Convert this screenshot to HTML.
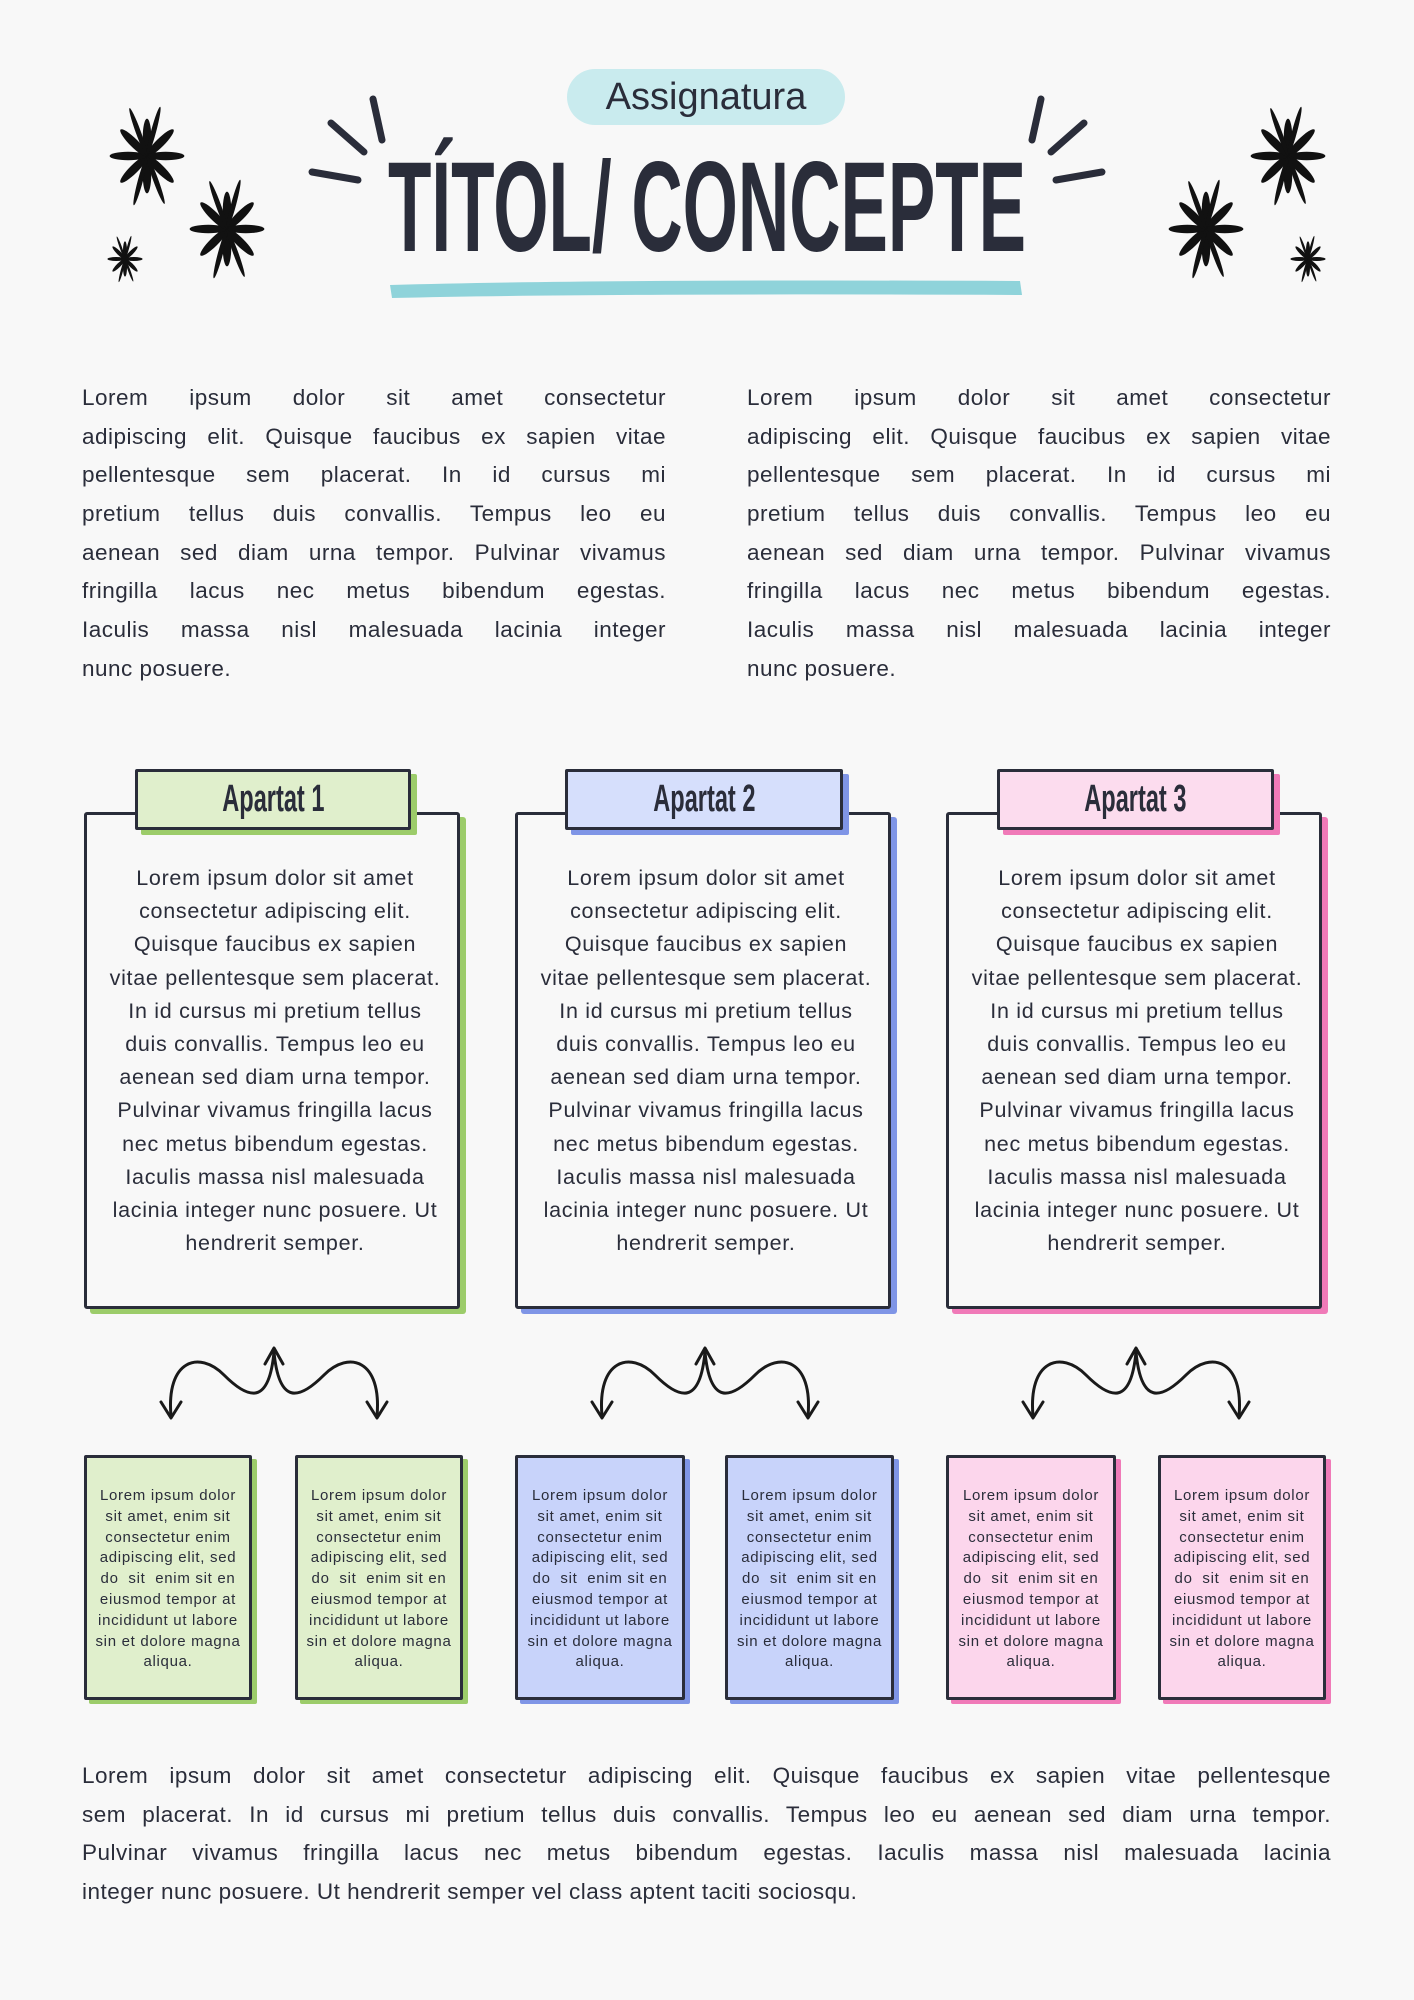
<!DOCTYPE html>
<html><head><meta charset="utf-8">
<style>
*{margin:0;padding:0;box-sizing:border-box}
body{width:1414px;height:2000px;background:#f8f8f8;position:relative;overflow:hidden;font-family:"Liberation Sans",sans-serif;color:#2a2d3a}
.abs{position:absolute}
.pill{left:567px;top:69px;width:278px;height:56px;border-radius:28px;background:#c9ebee;text-align:center;font-size:38px;line-height:56px;color:#2a2d3a}
.title{left:107px;top:144px;width:1200px;text-align:center;font-size:128px;font-weight:bold;line-height:128px;white-space:nowrap;transform:scaleX(0.555);transform-origin:center;color:#2a2d3a}
.para{font-size:22.5px;letter-spacing:0.5px;line-height:38.7px;color:#2a2d3a}
.para div{text-align:justify;text-align-last:justify;white-space:nowrap;height:38.7px}
.para div.l{text-align-last:left}
.box{border:3px solid #2a2d3a;background:#f8f8f8;border-radius:3px}
.tab{border:3px solid #2a2d3a;text-align:center;font-size:38px;font-weight:bold;line-height:54px;border-radius:2px;white-space:nowrap}
.tab span{display:inline-block;transform:scaleX(0.62)}
.bt{font-size:21.5px;letter-spacing:0.7px;line-height:33.2px;text-align:center;color:#2a2d3a}
.sm{border:3px solid #2a2d3a;border-radius:2px;font-size:15px;letter-spacing:0.7px;line-height:20.8px;text-align:center;padding:28px 4px 0}
</style></head><body>
<div class="abs pill">Assignatura</div>
<div class="abs title">TÍTOL/ CONCEPTE</div>
<svg class="abs" style="left:0;top:0" width="1414" height="320">
<defs>
<g id="st"><g fill="#111">
<ellipse cx="0" cy="-22" rx="5" ry="22"/><ellipse cx="0" cy="22" rx="5" ry="22"/>
<ellipse cx="0" cy="-22" rx="5" ry="22" transform="rotate(45)"/><ellipse cx="0" cy="22" rx="5" ry="22" transform="rotate(45)"/>
<ellipse cx="0" cy="-22" rx="5" ry="22" transform="rotate(90)"/><ellipse cx="0" cy="22" rx="5" ry="22" transform="rotate(90)"/>
<ellipse cx="0" cy="-22" rx="5" ry="22" transform="rotate(135)"/><ellipse cx="0" cy="22" rx="5" ry="22" transform="rotate(135)"/>
<ellipse cx="0" cy="-30" rx="3" ry="30" transform="rotate(15)"/><ellipse cx="0" cy="30" rx="3" ry="30" transform="rotate(15)"/>
<ellipse cx="0" cy="-30" rx="3" ry="30" transform="rotate(-20)"/><ellipse cx="0" cy="30" rx="3" ry="30" transform="rotate(-20)"/>
</g></g>
</defs>
<use href="#st" transform="translate(147,156) scale(0.85)"/>
<use href="#st" transform="translate(227,229) scale(0.85)"/>
<use href="#st" transform="translate(125,259) scale(0.4)"/>
<use href="#st" transform="translate(1288,156) scale(0.85)"/>
<use href="#st" transform="translate(1206,229) scale(0.85)"/>
<use href="#st" transform="translate(1308,259) scale(0.4)"/>
<g stroke="#2a2d3a" stroke-width="7" stroke-linecap="round">
<line x1="331" y1="123" x2="364" y2="152"/><line x1="373" y1="99" x2="382" y2="140"/><line x1="312" y1="172" x2="358" y2="180"/>
<line x1="1084" y1="123" x2="1051" y2="152"/><line x1="1041" y1="99" x2="1032" y2="140"/><line x1="1102" y1="172" x2="1056" y2="180"/>
</g>
<path d="M390 285 Q600 279 1020 281 L1022 295 Q600 293 392 298 Z" fill="#8fd3da"/>
</svg>
<div class="abs para" style="left:82px;top:379px;width:584px">
<div>Lorem ipsum dolor sit amet consectetur</div>
<div>adipiscing elit. Quisque faucibus ex sapien vitae</div>
<div>pellentesque sem placerat. In id cursus mi</div>
<div>pretium tellus duis convallis. Tempus leo eu</div>
<div>aenean sed diam urna tempor. Pulvinar vivamus</div>
<div>fringilla lacus nec metus bibendum egestas.</div>
<div>Iaculis massa nisl malesuada lacinia integer</div>
<div class="l">nunc posuere.</div>
</div>
<div class="abs para" style="left:747px;top:379px;width:584px">
<div>Lorem ipsum dolor sit amet consectetur</div>
<div>adipiscing elit. Quisque faucibus ex sapien vitae</div>
<div>pellentesque sem placerat. In id cursus mi</div>
<div>pretium tellus duis convallis. Tempus leo eu</div>
<div>aenean sed diam urna tempor. Pulvinar vivamus</div>
<div>fringilla lacus nec metus bibendum egestas.</div>
<div>Iaculis massa nisl malesuada lacinia integer</div>
<div class="l">nunc posuere.</div>
</div>

<div class="abs box" style="left:84px;top:812px;width:376px;height:497px;box-shadow:6px 5px 0 #9ccc6a"></div>
<div class="abs tab" style="left:135px;top:769px;width:276px;height:61px;background:#e0efcc;box-shadow:6px 5px 0 #9ccc6a"><span>Apartat 1</span></div>
<div class="abs box" style="left:515px;top:812px;width:376px;height:497px;box-shadow:6px 5px 0 #7f95e6"></div>
<div class="abs tab" style="left:565px;top:769px;width:278px;height:61px;background:#d6dffc;box-shadow:6px 5px 0 #7f95e6"><span>Apartat 2</span></div>
<div class="abs box" style="left:946px;top:812px;width:376px;height:497px;box-shadow:6px 5px 0 #f07ab8"></div>
<div class="abs tab" style="left:997px;top:769px;width:277px;height:61px;background:#fcdcee;box-shadow:6px 5px 0 #f07ab8"><span>Apartat 3</span></div>
<div class="abs bt" style="left:90px;top:862px;width:370px">Lorem ipsum dolor sit amet<br>consectetur adipiscing elit.<br>Quisque faucibus ex sapien<br>vitae pellentesque sem placerat.<br>In id cursus mi pretium tellus<br>duis convallis. Tempus leo eu<br>aenean sed diam urna tempor.<br>Pulvinar vivamus fringilla lacus<br>nec metus bibendum egestas.<br>Iaculis massa nisl malesuada<br>lacinia integer nunc posuere. Ut<br>hendrerit semper.</div>
<div class="abs bt" style="left:521px;top:862px;width:370px">Lorem ipsum dolor sit amet<br>consectetur adipiscing elit.<br>Quisque faucibus ex sapien<br>vitae pellentesque sem placerat.<br>In id cursus mi pretium tellus<br>duis convallis. Tempus leo eu<br>aenean sed diam urna tempor.<br>Pulvinar vivamus fringilla lacus<br>nec metus bibendum egestas.<br>Iaculis massa nisl malesuada<br>lacinia integer nunc posuere. Ut<br>hendrerit semper.</div>
<div class="abs bt" style="left:952px;top:862px;width:370px">Lorem ipsum dolor sit amet<br>consectetur adipiscing elit.<br>Quisque faucibus ex sapien<br>vitae pellentesque sem placerat.<br>In id cursus mi pretium tellus<br>duis convallis. Tempus leo eu<br>aenean sed diam urna tempor.<br>Pulvinar vivamus fringilla lacus<br>nec metus bibendum egestas.<br>Iaculis massa nisl malesuada<br>lacinia integer nunc posuere. Ut<br>hendrerit semper.</div>

<svg class="abs" style="left:0;top:1340px" width="1414" height="100">
<defs><g id="ar" fill="none" stroke="#1a1a1a" stroke-width="3" stroke-linecap="round" stroke-linejoin="round">
<path d="M-103,76 C-108,20 -75,10 -50,35 C-25,60 -5,65 0,12 C5,65 25,60 50,35 C75,10 108,20 103,76"/>
<path d="M-113,62 L-103,78 L-93,62"/><path d="M93,62 L103,78 L113,62"/><path d="M-9,24 L0,8 L9,24"/>
</g></defs>
<use href="#ar" x="274" y="0"/>
<use href="#ar" x="705" y="0"/>
<use href="#ar" x="1136" y="0"/>
</svg>

<div class="abs sm" style="left:84px;top:1455px;width:168px;height:245px;background:#e0efcc;box-shadow:5px 4px 0 #9ccc6a">Lorem ipsum dolor<br>sit amet, enim sit<br>consectetur enim<br>adipiscing elit, sed<br>do &nbsp;sit &nbsp;enim sit en<br>eiusmod tempor at<br>incididunt ut labore<br>sin et dolore magna<br>aliqua.</div>
<div class="abs sm" style="left:295px;top:1455px;width:168px;height:245px;background:#e0efcc;box-shadow:5px 4px 0 #9ccc6a">Lorem ipsum dolor<br>sit amet, enim sit<br>consectetur enim<br>adipiscing elit, sed<br>do &nbsp;sit &nbsp;enim sit en<br>eiusmod tempor at<br>incididunt ut labore<br>sin et dolore magna<br>aliqua.</div>
<div class="abs sm" style="left:515px;top:1455px;width:170px;height:245px;background:#c8d3fa;box-shadow:5px 4px 0 #7f95e6">Lorem ipsum dolor<br>sit amet, enim sit<br>consectetur enim<br>adipiscing elit, sed<br>do &nbsp;sit &nbsp;enim sit en<br>eiusmod tempor at<br>incididunt ut labore<br>sin et dolore magna<br>aliqua.</div>
<div class="abs sm" style="left:725px;top:1455px;width:169px;height:245px;background:#c8d3fa;box-shadow:5px 4px 0 #7f95e6">Lorem ipsum dolor<br>sit amet, enim sit<br>consectetur enim<br>adipiscing elit, sed<br>do &nbsp;sit &nbsp;enim sit en<br>eiusmod tempor at<br>incididunt ut labore<br>sin et dolore magna<br>aliqua.</div>
<div class="abs sm" style="left:946px;top:1455px;width:170px;height:245px;background:#fcd6ec;box-shadow:5px 4px 0 #f07ab8">Lorem ipsum dolor<br>sit amet, enim sit<br>consectetur enim<br>adipiscing elit, sed<br>do &nbsp;sit &nbsp;enim sit en<br>eiusmod tempor at<br>incididunt ut labore<br>sin et dolore magna<br>aliqua.</div>
<div class="abs sm" style="left:1158px;top:1455px;width:168px;height:245px;background:#fcd6ec;box-shadow:5px 4px 0 #f07ab8">Lorem ipsum dolor<br>sit amet, enim sit<br>consectetur enim<br>adipiscing elit, sed<br>do &nbsp;sit &nbsp;enim sit en<br>eiusmod tempor at<br>incididunt ut labore<br>sin et dolore magna<br>aliqua.</div>

<div class="abs para" style="left:82px;top:1757px;width:1249px">
<div>Lorem ipsum dolor sit amet consectetur adipiscing elit. Quisque faucibus ex sapien vitae pellentesque</div>
<div>sem placerat. In id cursus mi pretium tellus duis convallis. Tempus leo eu aenean sed diam urna tempor.</div>
<div>Pulvinar vivamus fringilla lacus nec metus bibendum egestas. Iaculis massa nisl malesuada lacinia</div>
<div class="l">integer nunc posuere. Ut hendrerit semper vel class aptent taciti sociosqu.</div>
</div>
</body></html>
